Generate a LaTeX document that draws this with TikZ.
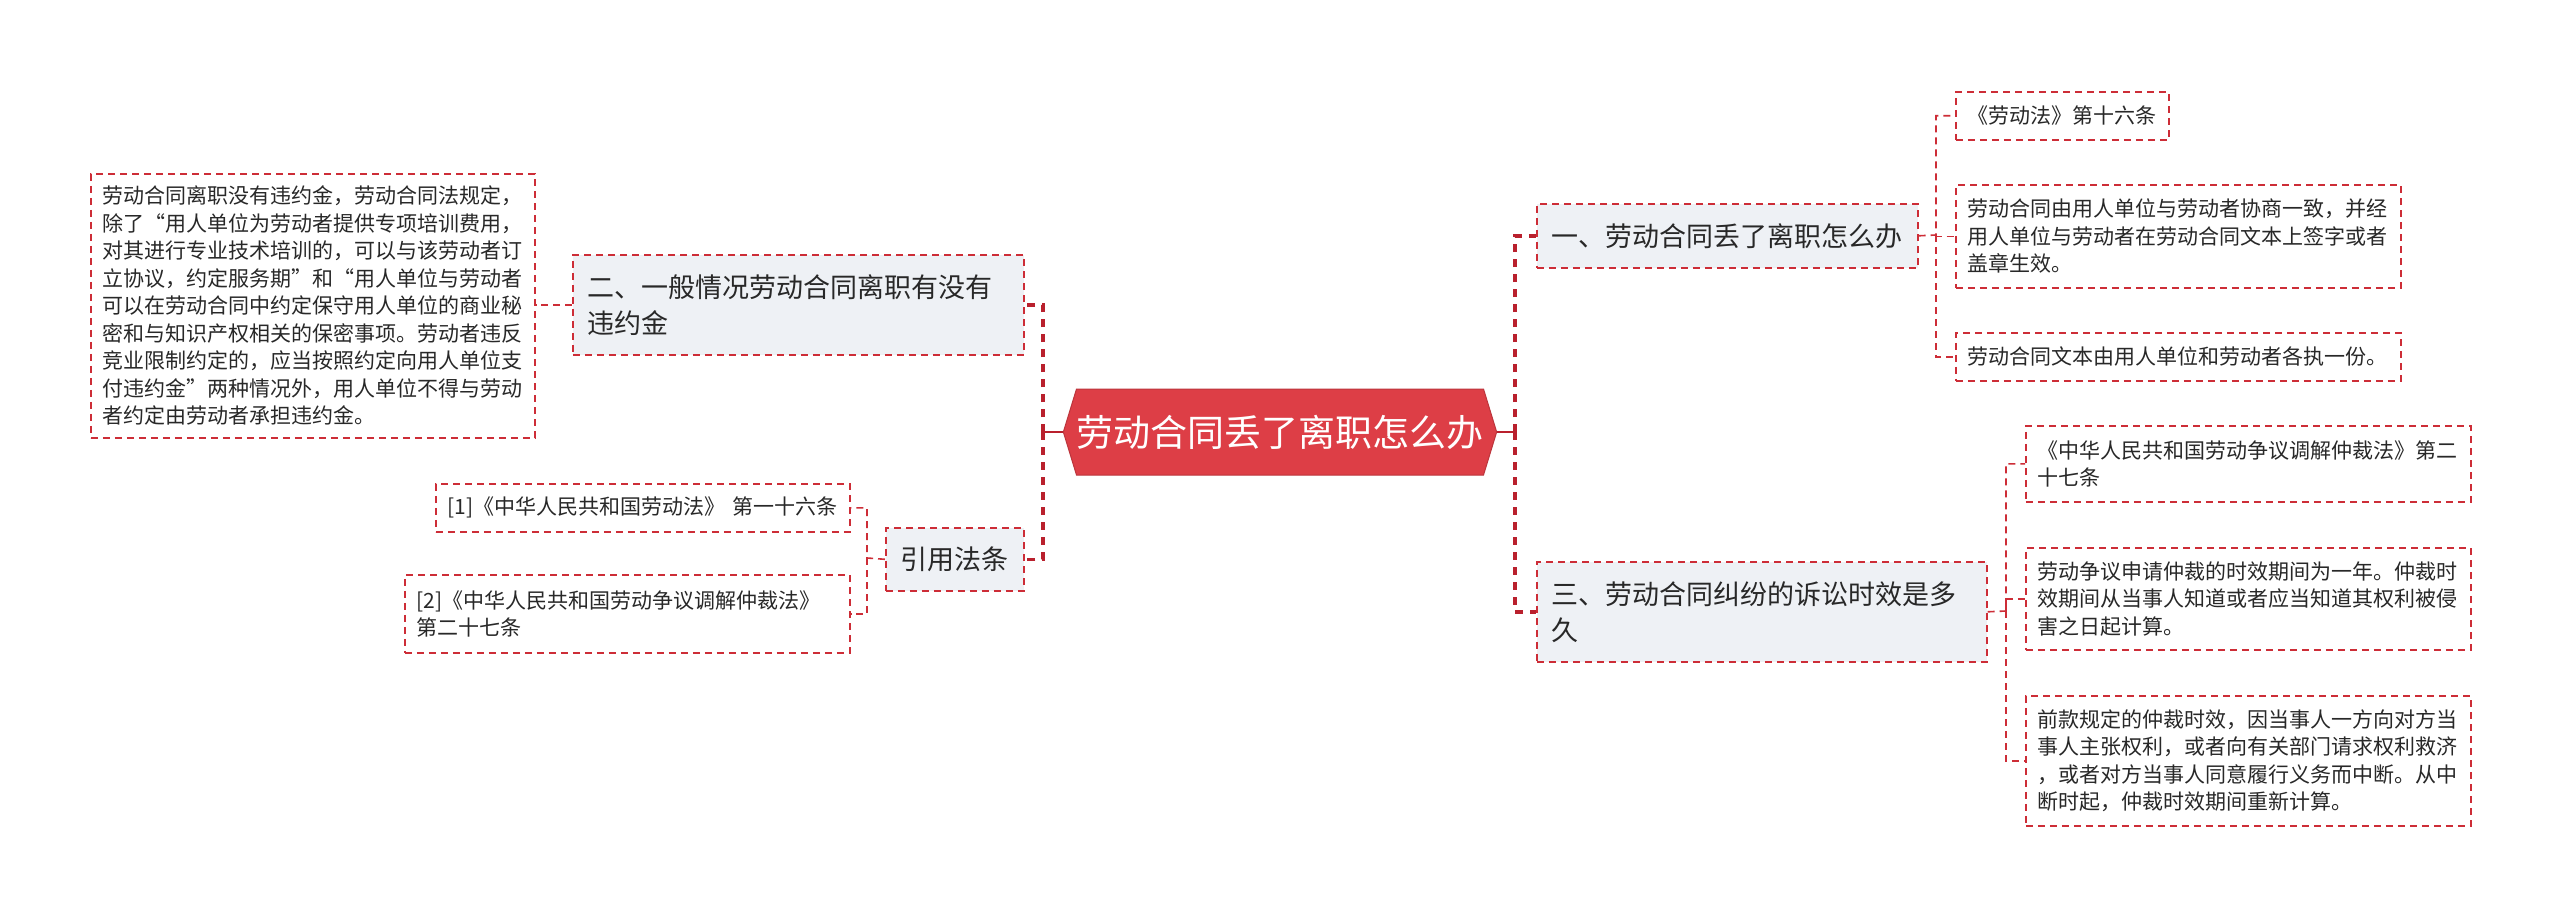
\documentclass[tikz,border=0pt]{standalone}
\usepackage{fontspec}
\setmainfont{Noto Sans CJK SC}
\usetikzlibrary{shapes.symbols}
\definecolor{bred}{RGB}{205,45,55}
\definecolor{tred}{RGB}{185,32,45}
\definecolor{cfill}{RGB}{221,62,70}
\definecolor{mfill}{RGB}{238,241,245}
\definecolor{txt}{RGB}{40,40,40}
\begin{document}
\begin{tikzpicture}[x=1pt,y=-1pt,
 box/.style={draw=bred, line width=1.6pt, dash pattern=on 7pt off 5pt, anchor=north west, align=left, inner ysep=0pt, text=txt},
 leaf/.style={box, fill=white, inner xsep=12pt, font=\fontsize{21}{27.5}\selectfont},
 mainbox/.style={box, fill=mfill, inner xsep=15pt, font=\fontsize{27}{36}\selectfont},
 trunk/.style={draw=tred, line width=3.5pt, dash pattern=on 8pt off 7pt},
 link/.style={draw=bred, line width=1.6pt, dash pattern=on 7pt off 5pt},
 stub/.style={draw=tred, line width=2.5pt},
]
\fill[white] (0,0) rectangle (2560,915);
\useasboundingbox (0,0) rectangle (2560,915);

% center
\node[signal, signal to=west and east, signal pointer angle=146, fill=cfill, draw=cfill!85!black, line width=1pt, minimum width=408pt, minimum height=86pt, inner sep=0pt, text=white, font=\fontsize{37}{39}\selectfont] (c) at (1280,432) {劳动合同丢了离职怎么办};

% main branches
\node[mainbox, text width=421pt, minimum height=100pt] (n2) at (572,254) {二、一般情况劳动合同离职有没有\\违约金};
\node[mainbox, text width=108pt, minimum height=63pt] (ref) at (885,527) {引用法条};
\node[mainbox, text width=351pt, minimum height=64pt] (n1) at (1536,203) {一、劳动合同丢了离职怎么办};
\node[mainbox, text width=420pt, minimum height=100pt] (n3) at (1536,561) {三、劳动合同纠纷的诉讼时效是多\\久};

% leaves
\node[leaf, text width=420pt, minimum height=264pt] (L1) at (90,173) {劳动合同离职没有违约金，劳动合同法规定，\\除了“用人单位为劳动者提供专项培训费用，\\对其进行专业技术培训的，可以与该劳动者订\\立协议，约定服务期”和“用人单位与劳动者\\可以在劳动合同中约定保守用人单位的商业秘\\密和与知识产权相关的保密事项。劳动者违反\\竞业限制约定的，应当按照约定向用人单位支\\付违约金”两种情况外，用人单位不得与劳动\\者约定由劳动者承担违约金。};
\node[leaf, text width=390pt, minimum height=48pt] (C1) at (435,483) {[1]《中华人民共和国劳动法》 第一十六条};
\node[leaf, text width=421pt, minimum height=78pt] (C2) at (404,574) {[2]《中华人民共和国劳动争议调解仲裁法》\\第二十七条};
\node[leaf, text width=189pt, minimum height=48pt] (R1) at (1955,91) {《劳动法》第十六条};
\node[leaf, text width=421pt, minimum height=103pt] (R2) at (1955,184) {劳动合同由用人单位与劳动者协商一致，并经\\用人单位与劳动者在劳动合同文本上签字或者\\盖章生效。};
\node[leaf, text width=421pt, minimum height=48pt] (R3) at (1955,332) {劳动合同文本由用人单位和劳动者各执一份。};
\node[leaf, text width=421pt, minimum height=76pt] (R4) at (2025,425) {《中华人民共和国劳动争议调解仲裁法》第二\\十七条};
\node[leaf, text width=421pt, minimum height=102pt] (R5) at (2025,547) {劳动争议申请仲裁的时效期间为一年。仲裁时\\效期间从当事人知道或者应当知道其权利被侵\\害之日起计算。};
\node[leaf, text width=421pt, minimum height=130pt] (R6) at (2025,695) {前款规定的仲裁时效，因当事人一方向对方当\\事人主张权利，或者向有关部门请求权利救济\\，或者对方当事人同意履行义务而中断。从中\\断时起，仲裁时效期间重新计算。};

% trunks
\coordinate (cl) at (1043,432);
\coordinate (cr) at (1515,432);
\draw[stub] (c.west) -- (cl);
\draw[stub] (c.east) -- (cr);
\draw[trunk] (cl) |- (n2.east);
\draw[trunk] (cl) |- (ref.east);
\draw[trunk] (cr) |- (n1.west);
\draw[trunk] (cr) |- (n3.west);

% leaf links
\draw[link] (n2.west) -- (n2.west -| L1.east);
\coordinate (jr) at (867,558);
\draw[link] (ref.west) -- (jr) |- (C1.east);
\draw[link] (jr) |- (C2.east);
\coordinate (j1) at (1936,235);
\draw[link] (n1.east) -- (j1) |- (R1.west);
\draw[link] (j1) |- (R2.west);
\draw[link] (j1) |- (R3.west);
\coordinate (j3) at (2006,611);
\draw[link] (n3.east) -- (j3) |- (R4.west);
\draw[link] (j3) |- (R5.west);
\draw[link] (j3) |- (R6.west);
\end{tikzpicture}
\end{document}
